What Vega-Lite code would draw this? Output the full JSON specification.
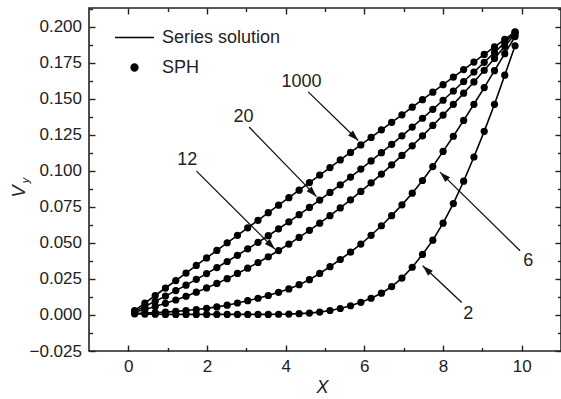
{
  "$schema": "https://vega.github.io/schema/vega-lite/v6.json",
  "width": 472,
  "height": 343,
  "autosize": {"type": "none"},
  "padding": {"left": 89, "top": 8, "right": 0, "bottom": 48},
  "background": "white",
  "config": {
    "view": {"stroke": "#222", "strokeWidth": 1.6},
    "font": "Liberation Sans",
    "axis": {"domain": false, "grid": false, "tickColor": "#222", "tickWidth": 1.4, "labelColor": "#222", "labelFont": "Liberation Sans", "labelFontSize": 17, "labelFlush": false, "labelOverlap": false, "titleFont": "Liberation Sans", "titleFontSize": 18, "titleFontWeight": "normal", "titleFontStyle": "italic", "titleColor": "#222"}
  },
  "datasets": {
    "curves": [
      {"n":"1000","x":0.160,"y":0.0030},{"n":"1000","x":0.421,"y":0.0082},{"n":"1000","x":0.683,"y":0.0135},{"n":"1000","x":0.944,"y":0.0187},{"n":"1000","x":1.206,"y":0.0239},{"n":"1000","x":1.467,"y":0.0291},{"n":"1000","x":1.728,"y":0.0344},{"n":"1000","x":1.990,"y":0.0396},{"n":"1000","x":2.251,"y":0.0448},{"n":"1000","x":2.513,"y":0.0501},{"n":"1000","x":2.774,"y":0.0553},{"n":"1000","x":3.035,"y":0.0605},{"n":"1000","x":3.297,"y":0.0657},{"n":"1000","x":3.558,"y":0.0710},{"n":"1000","x":3.820,"y":0.0762},{"n":"1000","x":4.081,"y":0.0814},{"n":"1000","x":4.342,"y":0.0866},{"n":"1000","x":4.604,"y":0.0919},{"n":"1000","x":4.865,"y":0.0971},{"n":"1000","x":5.127,"y":0.1023},{"n":"1000","x":5.388,"y":0.1076},{"n":"1000","x":5.649,"y":0.1128},{"n":"1000","x":5.911,"y":0.1180},{"n":"1000","x":6.172,"y":0.1232},{"n":"1000","x":6.434,"y":0.1285},{"n":"1000","x":6.695,"y":0.1337},{"n":"1000","x":6.956,"y":0.1389},{"n":"1000","x":7.218,"y":0.1442},{"n":"1000","x":7.479,"y":0.1494},{"n":"1000","x":7.741,"y":0.1546},{"n":"1000","x":8.002,"y":0.1598},{"n":"1000","x":8.263,"y":0.1651},{"n":"1000","x":8.525,"y":0.1703},{"n":"1000","x":8.786,"y":0.1755},{"n":"1000","x":9.048,"y":0.1808},{"n":"1000","x":9.309,"y":0.1860},{"n":"1000","x":9.570,"y":0.1912},{"n":"1000","x":9.832,"y":0.1964},
      {"n":"20","x":0.160,"y":0.0025},{"n":"20","x":0.421,"y":0.0059},{"n":"20","x":0.683,"y":0.0095},{"n":"20","x":0.944,"y":0.0131},{"n":"20","x":1.206,"y":0.0169},{"n":"20","x":1.467,"y":0.0207},{"n":"20","x":1.728,"y":0.0247},{"n":"20","x":1.990,"y":0.0287},{"n":"20","x":2.251,"y":0.0329},{"n":"20","x":2.513,"y":0.0371},{"n":"20","x":2.774,"y":0.0414},{"n":"20","x":3.035,"y":0.0459},{"n":"20","x":3.297,"y":0.0504},{"n":"20","x":3.558,"y":0.0550},{"n":"20","x":3.820,"y":0.0598},{"n":"20","x":4.081,"y":0.0646},{"n":"20","x":4.342,"y":0.0696},{"n":"20","x":4.604,"y":0.0746},{"n":"20","x":4.865,"y":0.0797},{"n":"20","x":5.127,"y":0.0850},{"n":"20","x":5.388,"y":0.0903},{"n":"20","x":5.649,"y":0.0957},{"n":"20","x":5.911,"y":0.1012},{"n":"20","x":6.172,"y":0.1069},{"n":"20","x":6.434,"y":0.1126},{"n":"20","x":6.695,"y":0.1184},{"n":"20","x":6.956,"y":0.1243},{"n":"20","x":7.218,"y":0.1304},{"n":"20","x":7.479,"y":0.1365},{"n":"20","x":7.741,"y":0.1427},{"n":"20","x":8.002,"y":0.1490},{"n":"20","x":8.263,"y":0.1554},{"n":"20","x":8.525,"y":0.1620},{"n":"20","x":8.786,"y":0.1686},{"n":"20","x":9.048,"y":0.1753},{"n":"20","x":9.309,"y":0.1821},{"n":"20","x":9.570,"y":0.1890},{"n":"20","x":9.832,"y":0.1961},
      {"n":"12","x":0.160,"y":0.0020},{"n":"12","x":0.421,"y":0.0038},{"n":"12","x":0.683,"y":0.0059},{"n":"12","x":0.944,"y":0.0081},{"n":"12","x":1.206,"y":0.0104},{"n":"12","x":1.467,"y":0.0130},{"n":"12","x":1.728,"y":0.0158},{"n":"12","x":1.990,"y":0.0188},{"n":"12","x":2.251,"y":0.0219},{"n":"12","x":2.513,"y":0.0252},{"n":"12","x":2.774,"y":0.0288},{"n":"12","x":3.035,"y":0.0325},{"n":"12","x":3.297,"y":0.0364},{"n":"12","x":3.558,"y":0.0404},{"n":"12","x":3.820,"y":0.0447},{"n":"12","x":4.081,"y":0.0492},{"n":"12","x":4.342,"y":0.0538},{"n":"12","x":4.604,"y":0.0587},{"n":"12","x":4.865,"y":0.0637},{"n":"12","x":5.127,"y":0.0689},{"n":"12","x":5.388,"y":0.0743},{"n":"12","x":5.649,"y":0.0799},{"n":"12","x":5.911,"y":0.0857},{"n":"12","x":6.172,"y":0.0917},{"n":"12","x":6.434,"y":0.0978},{"n":"12","x":6.695,"y":0.1042},{"n":"12","x":6.956,"y":0.1107},{"n":"12","x":7.218,"y":0.1174},{"n":"12","x":7.479,"y":0.1243},{"n":"12","x":7.741,"y":0.1315},{"n":"12","x":8.002,"y":0.1387},{"n":"12","x":8.263,"y":0.1462},{"n":"12","x":8.525,"y":0.1539},{"n":"12","x":8.786,"y":0.1617},{"n":"12","x":9.048,"y":0.1698},{"n":"12","x":9.309,"y":0.1780},{"n":"12","x":9.570,"y":0.1864},{"n":"12","x":9.832,"y":0.1950},
      {"n":"6","x":0.160,"y":0.0012},{"n":"6","x":0.421,"y":0.0013},{"n":"6","x":0.683,"y":0.0016},{"n":"6","x":0.944,"y":0.0020},{"n":"6","x":1.206,"y":0.0025},{"n":"6","x":1.467,"y":0.0031},{"n":"6","x":1.728,"y":0.0038},{"n":"6","x":1.990,"y":0.0046},{"n":"6","x":2.251,"y":0.0056},{"n":"6","x":2.513,"y":0.0068},{"n":"6","x":2.774,"y":0.0083},{"n":"6","x":3.035,"y":0.0099},{"n":"6","x":3.297,"y":0.0116},{"n":"6","x":3.558,"y":0.0135},{"n":"6","x":3.820,"y":0.0157},{"n":"6","x":4.081,"y":0.0181},{"n":"6","x":4.342,"y":0.0210},{"n":"6","x":4.604,"y":0.0245},{"n":"6","x":4.865,"y":0.0288},{"n":"6","x":5.127,"y":0.0335},{"n":"6","x":5.388,"y":0.0385},{"n":"6","x":5.649,"y":0.0436},{"n":"6","x":5.911,"y":0.0492},{"n":"6","x":6.172,"y":0.0553},{"n":"6","x":6.434,"y":0.0619},{"n":"6","x":6.695,"y":0.0689},{"n":"6","x":6.956,"y":0.0764},{"n":"6","x":7.218,"y":0.0845},{"n":"6","x":7.479,"y":0.0933},{"n":"6","x":7.741,"y":0.1030},{"n":"6","x":8.002,"y":0.1135},{"n":"6","x":8.263,"y":0.1240},{"n":"6","x":8.525,"y":0.1350},{"n":"6","x":8.786,"y":0.1462},{"n":"6","x":9.048,"y":0.1578},{"n":"6","x":9.309,"y":0.1695},{"n":"6","x":9.570,"y":0.1813},{"n":"6","x":9.832,"y":0.1932},
      {"n":"2","x":0.160,"y":0.0008},{"n":"2","x":0.421,"y":0.0006},{"n":"2","x":0.683,"y":0.0005},{"n":"2","x":0.944,"y":0.0004},{"n":"2","x":1.206,"y":0.0004},{"n":"2","x":1.467,"y":0.0004},{"n":"2","x":1.728,"y":0.0004},{"n":"2","x":1.990,"y":0.0004},{"n":"2","x":2.251,"y":0.0004},{"n":"2","x":2.513,"y":0.0004},{"n":"2","x":2.774,"y":0.0004},{"n":"2","x":3.035,"y":0.0004},{"n":"2","x":3.297,"y":0.0004},{"n":"2","x":3.558,"y":0.0004},{"n":"2","x":3.820,"y":0.0005},{"n":"2","x":4.081,"y":0.0006},{"n":"2","x":4.342,"y":0.0009},{"n":"2","x":4.604,"y":0.0013},{"n":"2","x":4.865,"y":0.0020},{"n":"2","x":5.127,"y":0.0031},{"n":"2","x":5.388,"y":0.0045},{"n":"2","x":5.649,"y":0.0064},{"n":"2","x":5.911,"y":0.0088},{"n":"2","x":6.172,"y":0.0116},{"n":"2","x":6.434,"y":0.0151},{"n":"2","x":6.695,"y":0.0197},{"n":"2","x":6.956,"y":0.0256},{"n":"2","x":7.218,"y":0.0331},{"n":"2","x":7.479,"y":0.0420},{"n":"2","x":7.741,"y":0.0519},{"n":"2","x":8.002,"y":0.0637},{"n":"2","x":8.263,"y":0.0773},{"n":"2","x":8.525,"y":0.0928},{"n":"2","x":8.786,"y":0.1096},{"n":"2","x":9.048,"y":0.1274},{"n":"2","x":9.309,"y":0.1462},{"n":"2","x":9.570,"y":0.1664},{"n":"2","x":9.832,"y":0.1868}
    ],
    "notes": [
      {"label":"1000","tx":4.40,"ty":0.1617,"x1":4.573,"y1":0.1548,"x2":5.845,"y2":0.1211},
      {"label":"20","tx":2.93,"ty":0.1373,"x1":3.071,"y1":0.1304,"x2":4.786,"y2":0.0821},
      {"label":"12","tx":1.50,"ty":0.1076,"x1":1.733,"y1":0.0998,"x2":3.725,"y2":0.0457},
      {"label":"6","tx":10.17,"ty":0.0376,"x1":9.959,"y1":0.0446,"x2":7.924,"y2":0.0991},
      {"label":"2","tx":8.64,"ty":0.0005,"x1":8.476,"y1":0.0086,"x2":7.483,"y2":0.0341}
    ]
  },
  "layer": [
    {
      "data": {"name": "curves"},
      "mark": {"type": "line", "strokeWidth": 1.6},
      "encoding": {
        "x": {"field": "x", "type": "quantitative", "scale": {"domain": [-1, 11], "nice": false, "zero": false},
          "axis": {"orient": "bottom", "values": [0, 2, 4, 6, 8, 10], "tickSize": -6, "labelPadding": 13, "title": "X", "titleX": 233, "titleY": 36, "titleBaseline": "middle"}},
        "y": {"field": "y", "type": "quantitative", "scale": {"domain": [-0.025, 0.213], "nice": false, "zero": false},
          "axis": {"orient": "left", "values": [-0.025, 0, 0.025, 0.05, 0.075, 0.1, 0.125, 0.15, 0.175, 0.2], "format": ".3f", "tickSize": -6, "labelPadding": 13.5, "title": "V", "titleAngle": 270, "titleX": -70, "titleY": 183, "titleBaseline": "middle", "titleAlign": "center"}},
        "detail": {"field": "n"},
        "color": {"datum": "Series solution", "scale": {"domain": ["Series solution", "SPH"], "range": ["#000", "#000"]},
          "legend": {"title": null, "orient": "none", "legendX": 25, "legendY": 9, "padding": 0, "symbolSize": 1521, "labelFontSize": 18, "labelFont": "Liberation Sans", "labelColor": "#222", "labelOffset": 7, "rowPadding": -9,
            "encode": {"symbols": {"update": {
              "shape": {"signal": "datum.value === 'SPH' ? 'circle' : 'stroke'"},
              "size": {"signal": "datum.value === 'SPH' ? 45 : 1521"},
              "fill": {"signal": "datum.value === 'SPH' ? '#000' : 'transparent'"},
              "stroke": {"value": "#000"},
              "strokeWidth": {"value": 1.6},
              "opacity": {"value": 1}
            }}}}}
      }
    },
    {
      "data": {"name": "curves"},
      "mark": {"type": "point", "filled": true, "size": 52, "opacity": 1},
      "encoding": {
        "x": {"field": "x", "type": "quantitative", "axis": {"orient": "top", "values": [0, 2, 4, 6, 8, 10], "tickSize": -6, "labels": false, "title": null}},
        "y": {"field": "y", "type": "quantitative", "axis": {"orient": "right", "values": [-0.025, 0, 0.025, 0.05, 0.075, 0.1, 0.125, 0.15, 0.175, 0.2], "tickSize": -6, "labels": false, "title": null}},
        "color": {"datum": "SPH"}
      }
    },
    {
      "data": {"name": "curves"},
      "mark": {"type": "point", "opacity": 0},
      "encoding": {
        "x": {"field": "x", "type": "quantitative", "axis": {"orient": "bottom", "values": [1, 3, 5, 7, 9], "tickSize": -3.5, "labels": false, "title": null}},
        "y": {"field": "y", "type": "quantitative", "axis": {"orient": "left", "values": [-0.0125, 0.0125, 0.0375, 0.0625, 0.0875, 0.1125, 0.1375, 0.1625, 0.1875, 0.2125], "tickSize": -3.5, "labels": false, "title": "y", "titleFontSize": 11, "titleAngle": 270, "titleX": -64, "titleY": 172, "titleBaseline": "middle", "titleAlign": "center"}}
      }
    },
    {
      "data": {"name": "curves"},
      "mark": {"type": "point", "opacity": 0},
      "encoding": {
        "x": {"field": "x", "type": "quantitative", "axis": {"orient": "top", "values": [1, 3, 5, 7, 9], "tickSize": -3.5, "labels": false, "title": null}},
        "y": {"field": "y", "type": "quantitative", "axis": {"orient": "right", "values": [-0.0125, 0.0125, 0.0375, 0.0625, 0.0875, 0.1125, 0.1375, 0.1625, 0.1875, 0.2125], "tickSize": -3.5, "labels": false, "title": null}}
      }
    },
    {
      "data": {"name": "notes"},
      "mark": {"type": "rule", "strokeWidth": 1.3, "color": "#111"},
      "encoding": {
        "x": {"field": "x1", "type": "quantitative", "axis": null},
        "y": {"field": "y1", "type": "quantitative", "axis": null},
        "x2": {"field": "x2"},
        "y2": {"field": "y2"}
      }
    },
    {
      "data": {"name": "notes"},
      "transform": [{"calculate": "atan2((datum.x2 - datum.x1) * 39.33, (datum.y2 - datum.y1) * 1441) * 180 / PI", "as": "ang"}],
      "mark": {"type": "point", "shape": "M0,0L0.32,1L-0.32,1Z", "filled": true, "size": 460, "color": "#111", "opacity": 1},
      "encoding": {
        "x": {"field": "x2", "type": "quantitative", "axis": null},
        "y": {"field": "y2", "type": "quantitative", "axis": null},
        "angle": {"field": "ang", "type": "quantitative", "scale": null}
      }
    },
    {
      "data": {"name": "notes"},
      "mark": {"type": "text", "fontSize": 18, "font": "Liberation Sans", "color": "#222", "align": "center", "baseline": "middle"},
      "encoding": {
        "x": {"field": "tx", "type": "quantitative", "axis": null},
        "y": {"field": "ty", "type": "quantitative", "axis": null},
        "text": {"field": "label"}
      }
    }
  ],
  "resolve": {"axis": {"x": "independent", "y": "independent"}}
}
